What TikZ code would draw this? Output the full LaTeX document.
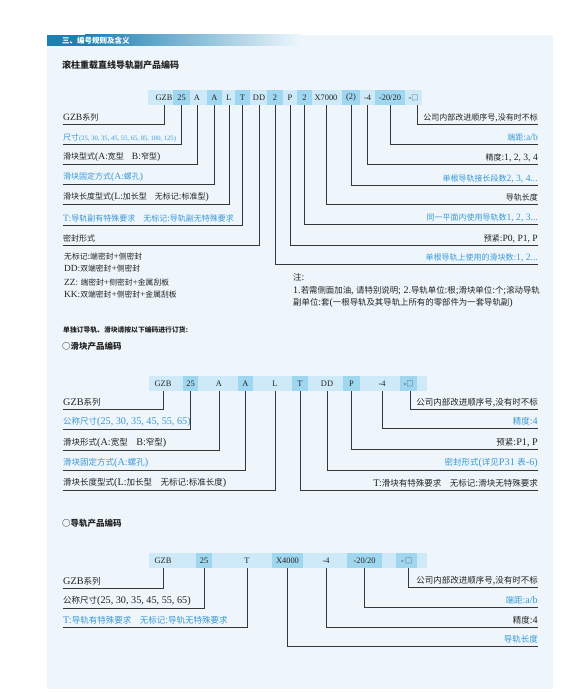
\documentclass[tikz,border=0pt]{standalone}
\usepackage{fontspec}
\setmainfont{Liberation Serif}[Scale=1.2]
\newfontfamily\cjk{Noto Sans CJK SC}
\definecolor{panel}{RGB}{238,246,252}
\definecolor{cellLight}{RGB}{206,233,247}
\definecolor{cellDark}{RGB}{160,215,240}
\definecolor{headblue}{RGB}{28,128,178}
\definecolor{bluetxt}{RGB}{58,152,212}
\definecolor{ink}{RGB}{35,35,35}
\definecolor{leadgray}{RGB}{55,55,55}
% Chinese characters switch to the CJK family by themselves
\XeTeXinterchartokenstate=1
\chardef\cjkcls=1
\newcount\cc
\def\cjkrange#1#2{\cc=#1
  \loop\XeTeXcharclass\cc=\cjkcls \ifnum\cc<#2 \advance\cc by 1 \repeat}
\cjkrange{"3000}{"303F}
\cjkrange{"4E00}{"9FFF}
\cjkrange{"FF00}{"FFEF}
\XeTeXcharclass"25CB=\cjkcls
\XeTeXcharclass"25A1=\cjkcls
\XeTeXinterchartoks 0 \cjkcls={\cjk}
\XeTeXinterchartoks 4095 \cjkcls={\cjk}
\XeTeXinterchartoks \cjkcls 0={\rmfamily}
\XeTeXinterchartoks \cjkcls 4095={\rmfamily}
\begin{document}
\begin{tikzpicture}[x=1pt,y=-1pt,
    code/.style={minimum height=15pt,inner sep=0pt,text=ink,font=\fontsize{7}{8}\selectfont},
    dk/.style={code,fill=cellDark},
    lab/.style={anchor=south west,inner xsep=0pt,inner ysep=2.2pt,text=ink,font=\fontsize{8}{9}\selectfont},
    rlab/.style={lab,anchor=south east},
    blu/.style={text=bluetxt},
    txt/.style={anchor=west,inner sep=0pt,text=ink},
    lead/.style={draw=leadgray,line width=1pt}]
\useasboundingbox (0,0) rectangle (567,693);
\fill[white] (0,0) rectangle (567,693);
\fill[panel] (47,35) rectangle (553,689);
\fill[headblue] (47,35) rectangle (85,46);
\shade[left color=headblue,right color=panel] (85,35) rectangle (300,46);
\node[txt,text=white,font=\fontsize{7.5}{8}\selectfont\bfseries] (head) at (62,40.5) {三、编号规则及含义};
\node[txt,font=\fontsize{9}{10}\selectfont\bfseries] (title) at (62,65) {滚柱重载直线导轨副产品编码};

% ---- rail + block code
\def\ra{97.5}
\fill[cellLight] (148,90) rectangle (422,105);
\node[code] (a1) at (164,\ra) {GZB};
\node[dk,minimum width=17pt] (a2) at (181.5,\ra) {25};
\node[code] (a3) at (197,\ra) {A};
\node[dk,minimum width=15pt] (a4) at (214.5,\ra) {A};
\node[code] (a5) at (229,\ra) {L};
\node[dk,minimum width=15pt] (a6) at (242.5,\ra) {T};
\node[code] (a7) at (259,\ra) {DD};
\node[dk,minimum width=16pt] (a8) at (275,\ra) {2};
\node[code] (a9) at (290,\ra) {P};
\node[dk,minimum width=15pt] (a10) at (304.5,\ra) {2};
\node[code] (a11) at (326,\ra) {X7000};
\node[dk,minimum width=18pt] (a12) at (351,\ra) {(2)};
\node[code] (a13) at (367.5,\ra) {-4};
\node[dk,minimum width=30pt] (a14) at (390,\ra) {-20/20};
\node[code] (a15) at (413.5,\ra) {-□};

\node[lab] (la1) at (63,124) {GZB系列};
\node[lab,blu] (la2) at (63,144) {尺寸{\fontsize{5.5}{6}\selectfont(25, 30, 35, 45, 55, 65, 85, 100, 125)}};
\node[lab] (la3) at (63,164) {滑块型式(A:宽型　B:窄型)};
\node[lab,blu] (la4) at (63,184) {滑块固定方式(A:螺孔)};
\node[lab] (la5) at (63,204) {滑块长度型式(L:加长型　无标记:标准型)};
\node[lab,blu] (la6) at (63,225) {T:导轨副有特殊要求　无标记:导轨副无特殊要求};
\node[lab] (la7) at (63,245) {密封形式};
\foreach \s/\t in {a1/la1,a2/la2,a3/la3,a4/la4,a5/la5,a6/la6,a7/la7}
  \draw[lead] (\s.south) |- (\t.south west);

\node[rlab] (ra1) at (538,124) {公司内部改进顺序号,没有时不标};
\node[rlab,blu] (ra2) at (538,144) {端距:a/b};
\node[rlab] (ra3) at (538,164) {精度:1, 2, 3, 4};
\node[rlab,blu] (ra4) at (538,185) {单根导轨接长段数2, 3, 4...};
\node[rlab] (ra5) at (538,204) {导轨长度};
\node[rlab,blu] (ra6) at (538,224) {同一平面内使用导轨数1, 2, 3...};
\node[rlab] (ra7) at (538,245) {预紧:P0, P1, P};
\node[rlab,blu] (ra8) at (538,264) {单根导轨上使用的滑块数:1, 2...};
\draw[lead] ([xshift=3.5pt]a15.south) |- (ra1.south east);
\foreach \s/\t in {a14/ra2,a13/ra3,a12/ra4,a11/ra5,a10/ra6,a9/ra7,a8/ra8}
  \draw[lead] (\s.south) |- (\t.south east);

% seal types and notes
\begin{scope}[every node/.style={anchor=base west,inner sep=0pt,text=ink,font=\fontsize{7.8}{8}\selectfont}]
  \node (s1) at (64,259) {无标记:端密封+侧密封};
  \node (s2) at (64,271) {DD:双端密封+侧密封};
  \node (s3) at (64,285) {ZZ:\ 端密封+侧密封+金属刮板};
  \node (s4) at (64,297) {KK:双端密封+侧密封+金属刮板};
\end{scope}
\begin{scope}[every node/.style={anchor=base west,inner sep=0pt,text=ink,font=\fontsize{8.4}{9}\selectfont}]
  \node (n0) at (293,280) {注:};
  \node (n1) at (293,293) {1.若需侧面加油, 请特别说明;\ 2.导轨单位:根;滑块单位:个;滚动导轨};
  \node (n2) at (293,305) {副单位:套(一根导轨及其导轨上所有的零部件为一套导轨副)};
\end{scope}

\node[txt,font=\fontsize{6.8}{8}\selectfont\bfseries] (order) at (63,330) {单独订导轨、滑块请按以下编码进行订货:};
\node[txt,font=\fontsize{8.5}{9}\selectfont\bfseries] (blockhd) at (62,346) {○滑块产品编码};

% ---- block code
\begin{scope}[lab/.append style={font=\fontsize{8.5}{9}\selectfont}]
\def\rb{383.5}
\fill[cellLight] (149,376) rectangle (427,391);
\node[code] (b1) at (163,\rb) {GZB};
\node[dk,minimum width=15pt] (b2) at (190.5,\rb) {25};
\node[code] (b3) at (219,\rb) {A};
\node[dk,minimum width=15pt] (b4) at (245.5,\rb) {A};
\node[code] (b5) at (275,\rb) {L};
\node[dk,minimum width=16pt] (b6) at (300,\rb) {T};
\node[code] (b7) at (327,\rb) {DD};
\node[dk,minimum width=17pt] (b8) at (351.5,\rb) {P};
\node[code] (b9) at (382,\rb) {-4};
\node[dk,minimum width=17pt] (b10) at (408.5,\rb) {-□};

\node[lab] (lb1) at (63,409) {GZB系列};
\node[lab,blu] (lb2) at (63,429) {公称尺寸(25, 30, 35, 45, 55, 65)};
\node[lab] (lb3) at (63,450) {滑块形式(A:宽型　B:窄型)};
\node[lab,blu] (lb4) at (63,470) {滑块固定方式(A:螺孔)};
\node[lab] (lb5) at (63,490) {滑块长度型式(L:加长型　无标记:标准长度)};
\foreach \s/\t in {b1/lb1,b2/lb2,b3/lb3,b4/lb4,b5/lb5}
  \draw[lead] (\s.south) |- (\t.south west);

\node[rlab] (rb1) at (538,409) {公司内部改进顺序号,没有时不标};
\node[rlab,blu] (rb2) at (538,428) {精度:4};
\node[rlab] (rb3) at (538,449) {预紧:P1, P};
\node[rlab,blu] (rb4) at (538,470) {密封形式(详见P31 表-6)};
\node[rlab] (rb5) at (538,490) {T:滑块有特殊要求　无标记:滑块无特殊要求};
\draw[lead] ([xshift=2pt]b10.south) |- (rb1.south east);
\foreach \s/\t in {b9/rb2,b8/rb3,b7/rb4,b6/rb5}
  \draw[lead] (\s.south) |- (\t.south east);
\end{scope}

\node[txt,font=\fontsize{8.5}{9}\selectfont\bfseries] (railhd) at (62,523) {○导轨产品编码};

% ---- rail code
\begin{scope}[lab/.append style={font=\fontsize{8.5}{9}\selectfont}]
\def\rc{560.5}
\fill[cellLight] (149,553) rectangle (427,568);
\node[code] (c1) at (163,\rc) {GZB};
\node[dk,minimum width=16pt] (c2) at (204,\rc) {25};
\node[code] (c3) at (247,\rc) {T};
\node[dk,minimum width=31pt] (c4) at (287.5,\rc) {X4000};
\node[code] (c5) at (326,\rc) {-4};
\node[dk,minimum width=35pt] (c6) at (364.5,\rc) {-20/20};
\node[dk,minimum width=21pt] (c7) at (406.5,\rc) {-\,□};

\node[lab] (lc1) at (63,588) {GZB系列};
\node[lab] (lc2) at (63,608) {公称尺寸(25, 30, 35, 45, 55, 65)};
\node[lab,blu] (lc3) at (63,627) {T:导轨有特殊要求　无标记:导轨无特殊要求};
\foreach \s/\t in {c1/lc1,c2/lc2,c3/lc3}
  \draw[lead] (\s.south) |- (\t.south west);

\node[rlab] (rc1) at (538,587) {公司内部改进顺序号,没有时不标};
\node[rlab,blu] (rc2) at (538,607) {端距:a/b};
\node[rlab] (rc3) at (538,627) {精度:4};
\node[rlab,blu] (rc4) at (538,646) {导轨长度};
\draw[lead] ([xshift=2pt]c7.south) |- (rc1.south east);
\foreach \s/\t in {c6/rc2,c5/rc3,c4/rc4}
  \draw[lead] (\s.south) |- (\t.south east);
\end{scope}
\end{tikzpicture}
\end{document}
